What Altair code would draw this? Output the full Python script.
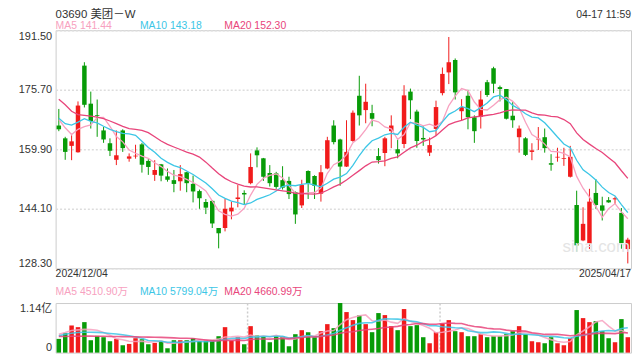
import altair as alt
import pandas as pd

# ---- data (03690 daily candles, 2024/12/04 - 2025/04/17) ----
opens = [166.2, 162.8, 160.8, 159.1, 182.1, 172.0, 169.0, 164.9, 161.5, 157.1,
         164.9, 157.4, 158.0, 161.2, 156.8, 153.1, 155.9, 152.7, 151.7, 151.4,
         153.8, 150.7, 148.8, 145.9, 146.2, 139.0, 139.0, 143.4, 146.7, 148.3,
         150.9, 159.6, 157.5, 153.6, 153.5, 151.7, 151.5, 148.5, 145.0, 154.1,
         152.8, 148.1, 154.8, 166.2, 162.5, 155.3, 162.1, 174.1, 170.3, 169.5,
         158.1, 158.9, 164.7, 159.9, 161.3, 175.2, 169.9, 162.9, 159.0, 165.3,
         174.8, 180.3, 183.6, 170.0, 174.1, 168.4, 168.5, 177.7, 181.4, 176.4,
         175.9, 168.8, 163.1, 162.8, 159.2, 162.5, 163.1, 156.2, 157.7, 157.3,
         152.6, 145.1, 135.7, 134.9, 148.3, 145.0, 146.4, 146.6, 143.0, 133.4]
highs = [170.6, 163.2, 163.6, 172.6, 183.0, 175.2, 173.1, 165.8, 162.8, 164.9,
         165.2, 158.8, 161.1, 161.6, 157.3, 157.0, 156.0, 154.8, 154.4, 155.7,
         153.9, 152.9, 149.2, 146.7, 146.4, 139.0, 146.7, 146.0, 150.4, 149.0,
         158.8, 160.4, 157.6, 155.7, 153.9, 155.4, 152.6, 148.7, 151.8, 154.3,
         153.0, 155.7, 163.2, 167.6, 162.7, 167.6, 170.2, 179.4, 177.3, 171.7,
         160.2, 163.2, 168.9, 162.5, 176.9, 176.0, 170.4, 166.0, 163.0, 172.8,
         181.6, 189.7, 184.0, 173.2, 175.7, 168.9, 175.4, 178.3, 181.8, 176.8,
         175.9, 172.4, 166.2, 163.1, 161.5, 165.8, 165.4, 158.6, 160.3, 160.3,
         160.8, 148.9, 144.5, 149.4, 152.0, 147.3, 147.2, 147.3, 144.3, 136.4]
lows = [164.7, 157.1, 157.0, 159.0, 171.0, 165.4, 163.2, 161.6, 158.1, 155.7,
        159.2, 156.6, 157.4, 153.7, 153.1, 151.5, 151.4, 151.3, 148.5, 148.9,
        148.5, 145.8, 144.1, 142.7, 139.0, 133.6, 138.1, 141.3, 144.5, 145.1,
        150.6, 155.1, 151.5, 150.0, 149.4, 149.2, 146.7, 140.1, 144.3, 146.7,
        146.7, 146.0, 154.6, 161.2, 150.2, 155.2, 161.9, 166.2, 166.8, 166.0,
        156.1, 155.4, 160.2, 157.5, 160.2, 167.9, 160.3, 160.8, 158.1, 163.6,
        174.2, 177.2, 173.1, 167.4, 165.2, 161.6, 165.4, 173.8, 174.8, 172.6,
        167.8, 165.6, 159.0, 158.1, 157.0, 159.7, 159.0, 154.2, 156.6, 155.5,
        152.4, 132.7, 135.5, 133.4, 144.1, 141.0, 145.7, 145.3, 133.5, 129.6]
closes = [165.2, 159.2, 162.0, 171.5, 171.7, 167.4, 168.8, 162.5, 159.5, 158.3,
          160.2, 158.0, 158.2, 155.8, 155.2, 154.4, 152.9, 151.8, 150.7, 153.3,
          150.9, 148.7, 146.9, 144.4, 140.2, 137.6, 144.1, 144.4, 147.1, 147.9,
          155.2, 158.3, 152.6, 150.9, 149.9, 149.7, 148.0, 142.6, 150.4, 150.9,
          150.2, 153.8, 162.3, 161.8, 155.3, 159.2, 169.6, 168.9, 172.5, 168.0,
          157.0, 162.8, 166.2, 158.8, 174.2, 172.9, 162.1, 162.5, 161.0, 171.1,
          179.9, 183.0, 175.0, 171.1, 168.4, 164.7, 173.1, 174.3, 177.3, 175.9,
          168.0, 167.6, 165.4, 158.4, 159.6, 162.7, 160.2, 155.8, 157.9, 157.5,
          157.9, 134.4, 140.1, 146.0, 145.1, 143.6, 145.8, 146.9, 135.0, 135.9]
# volume in 万 shares
volumes = [3158, 4468, 6239, 5854, 7009, 2850, 3851, 3543, 2619, 3158,
           1695, 2003, 3312, 3081, 1926, 2234, 2696, 1001, 2850, 2850,
           2850, 3312, 2696, 2773, 2927, 3774, 5854, 2773, 3543, 1926,
           6085, 3928, 3697, 2388, 3851, 3697, 1464, 4236, 5161, 4698,
           3543, 4930, 6547, 5623, 11400, 9320, 7472, 8550, 6547, 4698,
           9089, 8627, 6085, 5161, 10014, 6085, 6316, 3543, 2157, 4698,
           6701, 7472, 4930, 4698, 3774, 3774, 4236, 3543, 3774, 3774,
           4236, 4930, 6085, 4236, 2619, 2388, 2157, 3543, 2157, 1695,
           3312, 9782, 7934, 7009, 7241, 4930, 3312, 2388, 7703, 3543]

# moving-average values before enough visible days exist
ma5_head = [167.8, 165.6, 163.8, 165.2]
ma10_head = [168.1, 166.7, 166.3, 167.1, 168.0, 167.3, 166.9, 166.0, 165.2]
ma20_head = [173.2, 171.7, 170.0, 169.1, 168.9, 168.7, 168.4, 168.0, 167.4, 166.7,
             166.0, 165.4, 165.2, 164.9, 164.3, 163.2, 162.1, 161.2, 160.5]
vma5_head = [4236, 4622, 5084, 5238]
vma10_head = [3851, 4236, 4468, 4622, 4700, 4700, 4650, 4550, 4400]
vma20_head = [3697, 3720, 3750, 3780, 3800, 3800, 3780, 3750, 3720, 3700,
              3680, 3650, 3620, 3600, 3570, 3540, 3500, 3450, 3400]

price_ticks = [128.30, 144.10, 159.90, 175.70, 191.50]
vol_ticks = [0, 11400]
title_text = "03690 美团－W"
time_text = "04-17 11:59"
date_labels = ["2024/12/04", "2025/04/17"]
ma_labels = ["MA5 141.44", "MA10 143.18", "MA20 152.30"]
vma_labels = ["MA5 4510.90万", "MA10 5799.04万", "MA20 4660.99万"]
ma_names = ["MA5", "MA10", "MA20"]

RED = "#f11b1b"
GREEN = "#079b07"
MA_COLORS = ["#f7a1c0", "#3cc6e6", "#e8457b"]
FONT = "Liberation Sans, Noto Sans CJK SC"


def moving_avg(vals, w, head):
    out = list(head)
    for k in range(w - 1, len(vals)):
        out.append(sum(vals[k - w + 1:k + 1]) / w)
    return out


n = len(closes)
idx = list(range(n))
df = pd.DataFrame({"i": idx, "open": opens, "high": highs, "low": lows,
                   "close": closes, "vol": volumes})
df["dir"] = ["up" if c >= o else "down" for o, c in zip(opens, closes)]

ma_long = pd.DataFrame({
    "i": idx * 3,
    "series": sum([[s] * n for s in ma_names], []),
    "value": moving_avg(closes, 5, ma5_head) + moving_avg(closes, 10, ma10_head)
    + moving_avg(closes, 20, ma20_head),
})
vma_long = pd.DataFrame({
    "i": idx * 3,
    "series": sum([[s] * n for s in ma_names], []),
    "value": moving_avg(volumes, 5, vma5_head) + moving_avg(volumes, 10, vma10_head)
    + moving_avg(volumes, 20, vma20_head),
})

W, H, VH = 580, 240, 50
step = W / n
xscale = alt.Scale(paddingInner=0.3, paddingOuter=0.15)
X = alt.X("i:O", scale=xscale, axis=None)
color_dir = alt.Color("dir:N", scale=alt.Scale(domain=["up", "down"], range=[RED, GREEN]), legend=None)
stroke_ma = alt.Stroke("series:N", scale=alt.Scale(domain=ma_names, range=MA_COLORS), legend=None)

price_scale = alt.Scale(domain=[price_ticks[0], price_ticks[-1]], nice=False, zero=False)
price_axis = alt.Axis(values=price_ticks, format=".2f", labelFlush=True, grid=True,
                      gridColor="#dddddd", gridDash=[2, 2], gridWidth=1.5, ticks=False,
                      domain=False, title=None, labelFontSize=11, labelColor="#333333",
                      labelPadding=4, labelFont=FONT)

wicks = alt.Chart(df).mark_rule(strokeWidth=1).encode(
    x=X, y=alt.Y("low:Q", scale=price_scale, axis=price_axis), y2="high:Q", color=color_dir)
bodies = alt.Chart(df).mark_bar().encode(
    x=X, y=alt.Y("open:Q", scale=price_scale, axis=price_axis), y2="close:Q", color=color_dir)
lines = alt.Chart(ma_long).mark_line(strokeWidth=1.3).encode(
    x=X, y=alt.Y("value:Q", scale=price_scale, axis=price_axis), stroke=stroke_ma)


def label(txt, x, y, size=10.5, color="#333333", align="left", baseline="middle"):
    return alt.Chart(pd.DataFrame({"t": [txt]})).mark_text(
        fontSize=size, color=color, align=align, baseline=baseline, font=FONT
    ).encode(x=alt.value(x), y=alt.value(y), text="t:N")


main_texts = [
    label(title_text, 0, -15.5, size=11.5),
    label(time_text, W, -15.5, size=10.5, align="right"),
    label(ma_labels[0], 0, -4.5, color=MA_COLORS[0]),
    label(ma_labels[1], 85, -4.5, color=MA_COLORS[1]),
    label(ma_labels[2], 170, -4.5, color=MA_COLORS[2]),
    label(date_labels[0], 0, H + 6),
    label(date_labels[1], W, H + 6, align="right"),
    label("sina.com", 545, 219, size=17, color="#e4e4e4", align="center"),
]

main = alt.layer(wicks, bodies, lines, *main_texts).properties(width=W, height=H)

vol_scale = alt.Scale(domain=vol_ticks, nice=False)
vol_axis = alt.Axis(values=vol_ticks, labelExpr="datum.value == 0 ? '0' : '1.14亿'",
                    labelFlush=True, grid=False, ticks=False, domain=False, title=None,
                    labelFontSize=11, labelColor="#333333", labelPadding=4, labelFont=FONT)
X_vol = alt.X("i:O", scale=xscale,
              axis=alt.Axis(values=[29, 59], grid=True, tickOffset=step / 2, labels=False,
                            ticks=False, domain=False, title=None, gridDash=[2, 2],
                            gridColor="#cccccc", gridWidth=1.5))

vbars = alt.Chart(df).mark_bar().encode(
    x=X_vol, y=alt.Y("vol:Q", scale=vol_scale, axis=vol_axis), color=color_dir)
vlines = alt.Chart(vma_long).mark_line(strokeWidth=1.6, opacity=0.85).encode(
    x=X_vol, y=alt.Y("value:Q", scale=vol_scale, axis=vol_axis), stroke=stroke_ma)
vol_texts = [
    label(vma_labels[0], 0, -11, color=MA_COLORS[0]),
    label(vma_labels[1], 85, -11, color=MA_COLORS[1]),
    label(vma_labels[2], 170, -11, color=MA_COLORS[2]),
]
vol = alt.layer(vbars, vlines, *vol_texts).properties(width=W, height=VH)

chart = alt.vconcat(main, vol, spacing=35, bounds="flush").properties(
    padding={"left": 9, "top": -1, "right": 0, "bottom": 0}
).configure_view(stroke="#cccccc", strokeWidth=1)

chart.save("out.html", embed_options={"renderer": "svg", "actions": False})
